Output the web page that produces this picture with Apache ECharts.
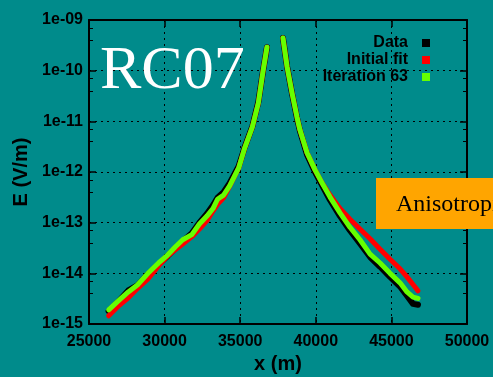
<!DOCTYPE html>
<html>
<head>
<meta charset="utf-8">
<script src="https://cdn.jsdelivr.net/npm/echarts@6/dist/echarts.min.js"></script>
<style>
  html, body { margin: 0; padding: 0; background: #008b8b; }
  #chart { width: 493px; height: 377px; }
</style>
</head>
<body>
<div id="chart"></div>
<script>
// x positions (m), left branch and right branch of the peak
const leftX = [26300, 26900, 27600, 28200, 28900, 29600, 30200, 30700, 31200, 31800, 32300,
  32800, 33200, 33500, 33900, 34300, 34900, 35300, 35800, 36200, 36500, 36770];
const rightX = [37830, 38100, 38430, 38760, 38950, 39420, 39950, 40410, 40940, 41600, 42260,
  42920, 43590, 44250, 44910, 45570, 46030, 46430, 46760];

// E (V/m)
const dataLeft = [1.8e-15, 2.7e-15, 4.6e-15, 5.8e-15, 9.5e-15, 1.5e-14, 2.2e-14, 3.1e-14, 4.3e-14, 6.2e-14, 1.0e-13,
  1.5e-13, 2.2e-13, 3.1e-13, 4.0e-13, 6.0e-13, 1.3e-12, 3.1e-12, 7.9e-12, 2.4e-11, 9.4e-11, 2.9e-10];
const dataRight = [4.4e-10, 1.2e-10, 3.5e-11, 1.15e-11, 6.5e-12, 2.2e-12, 1.0e-12, 5.5e-13, 2.8e-13, 1.35e-13, 7.0e-14,
  3.9e-14, 2.1e-14, 1.35e-14, 8.5e-15, 5.5e-15, 3.6e-15, 2.5e-15, 2.4e-15];

const initLeft = [1.45e-15, 2.2e-15, 3.3e-15, 5.0e-15, 7.8e-15, 1.4e-14, 2.2e-14, 2.9e-14, 3.8e-14, 5.3e-14, 7.5e-14,
  1.1e-13, 1.7e-13, 2.3e-13, 3.1e-13, 5.2e-13, 1.2e-12, 3.0e-12, 7.7e-12, 2.3e-11, 9.4e-11, 2.9e-10];
const initRight = [4.4e-10, 1.2e-10, 3.6e-11, 1.2e-11, 6.8e-12, 2.4e-12, 1.1e-12, 6.1e-13, 3.5e-13, 1.9e-13, 1.17e-13,
  7.5e-14, 4.8e-14, 3.0e-14, 1.9e-14, 1.23e-14, 8.5e-15, 6.0e-15, 4.5e-15];

const iterLeft = [1.9e-15, 2.8e-15, 4.3e-15, 5.9e-15, 1.0e-14, 1.6e-14, 2.3e-14, 3.3e-14, 4.6e-14, 5.8e-14, 9.4e-14,
  1.35e-13, 1.9e-13, 2.9e-13, 3.5e-13, 5.3e-13, 1.2e-12, 3.0e-12, 7.7e-12, 2.3e-11, 9.4e-11, 2.9e-10];
const iterRight = [4.4e-10, 1.2e-10, 3.6e-11, 1.2e-11, 6.8e-12, 2.4e-12, 1.1e-12, 6.1e-13, 3.2e-13, 1.56e-13, 8.1e-14,
  4.6e-14, 2.4e-14, 1.6e-14, 1.0e-14, 6.5e-15, 4.3e-15, 3.4e-15, 3.2e-15];

const seriesNames = ['Data', 'Initial fit', 'Iteration 63'];
const yTickLabels = ['1e-15', '1e-14', '1e-13', '1e-12', '1e-11', '1e-10', '1e-09'];

const FONT = 'Liberation Sans';
const pairs = (xs, ys) => xs.map((x, i) => [x, ys[i]]);

var myChart = echarts.init(document.getElementById('chart'));

const line = (name, xs, ys, color, width) => ({
  name: name,
  type: 'line',
  data: pairs(xs, ys),
  showSymbol: false,
  symbol: 'none',
  silent: true,
  itemStyle: { color: color },
  lineStyle: { color: color, width: width, cap: 'round', join: 'round' }
});

const axisBase = {
  axisLine: { show: true, lineStyle: { color: '#000', width: 2 } },
  axisTick: { show: true, inside: true, length: 7, lineStyle: { color: '#000', width: 1.5 } }
};

var option = {
  backgroundColor: '#008b8b',
  animation: false,
  textStyle: { fontFamily: FONT },
  grid: { left: 89, right: 26, top: 20, bottom: 53, outerBoundsMode: 'none', containLabel: false },
  legend: {
    orient: 'vertical',
    align: 'right',
    right: 58,
    top: 30,
    itemWidth: 8,
    itemHeight: 8,
    itemGap: 1,
    selectedMode: false,
    textStyle: { fontSize: 16, fontWeight: 'bold', color: '#000', fontFamily: FONT, padding: [0, 9, 0, 0] },
    data: [
      { name: seriesNames[0], icon: 'rect', itemStyle: { color: '#000' } },
      { name: seriesNames[1], icon: 'rect', itemStyle: { color: '#ff0000' } },
      { name: seriesNames[2], icon: 'rect', itemStyle: { color: '#66ff00' } }
    ]
  },
  xAxis: [
    Object.assign({}, axisBase, {
      type: 'value', min: 25000, max: 50000, interval: 5000,
      name: 'x (m)', nameLocation: 'middle', nameGap: 30,
      nameTextStyle: { fontSize: 20, fontWeight: 'bold', color: '#000', fontFamily: FONT },
      axisLabel: { fontSize: 16, fontWeight: 'bold', color: '#000', margin: 10, fontFamily: FONT,
        formatter: v => String(v) },
      splitLine: { show: true, lineStyle: { color: '#000', width: 1, type: [2, 4] } }
    }),
    Object.assign({}, axisBase, {
      type: 'value', min: 25000, max: 50000, interval: 5000, position: 'top',
      axisLabel: { show: false }, splitLine: { show: false }
    })
  ],
  yAxis: [
    Object.assign({}, axisBase, {
      type: 'log', logBase: 10, min: 1e-15, max: 1e-9,
      name: 'E (V/m)', nameLocation: 'middle', nameGap: 56,
      nameTextStyle: { fontSize: 20, fontWeight: 'bold', color: '#000', fontFamily: FONT },
      axisLabel: {
        fontSize: 16, fontWeight: 'bold', color: '#000', margin: 6, fontFamily: FONT,
        formatter: v => yTickLabels[Math.round(Math.log10(v)) + 15]
      },
      minorTick: { show: true, splitNumber: 3, length: 4, lineStyle: { color: '#000', width: 1 } },
      splitLine: { show: true, lineStyle: { color: '#000', width: 1, type: [2, 4] } }
    }),
    Object.assign({}, axisBase, {
      type: 'log', logBase: 10, min: 1e-15, max: 1e-9, position: 'right',
      axisLabel: { show: false }, splitLine: { show: false },
      minorTick: { show: true, splitNumber: 3, length: 4, lineStyle: { color: '#000', width: 1 } }
    })
  ],
  graphic: [
    {
      type: 'text', x: 100, y: 72, z: 10,
      style: { text: 'RC07', fill: '#fff', font: '62px "Liberation Serif"', verticalAlign: 'middle' }
    },
    {
      type: 'rect', z: 10,
      shape: { x: 376, y: 178, width: 140, height: 51 },
      style: { fill: '#ffa500' }
    },
    {
      type: 'text', x: 396, y: 205, z: 11,
      style: { text: 'Anisotropic', fill: '#000', font: '24px "Liberation Serif"', verticalAlign: 'middle' }
    }
  ],
  series: [
    line(seriesNames[0], leftX, dataLeft, '#000', 6),
    line(seriesNames[0], rightX, dataRight, '#000', 6),
    line(seriesNames[1], leftX, initLeft, '#ff0000', 5),
    line(seriesNames[1], rightX, initRight, '#ff0000', 5),
    line(seriesNames[2], leftX, iterLeft, '#66ff00', 5),
    line(seriesNames[2], rightX, iterRight, '#66ff00', 5)
  ]
};

myChart.setOption(option);
</script>
</body>
</html>
